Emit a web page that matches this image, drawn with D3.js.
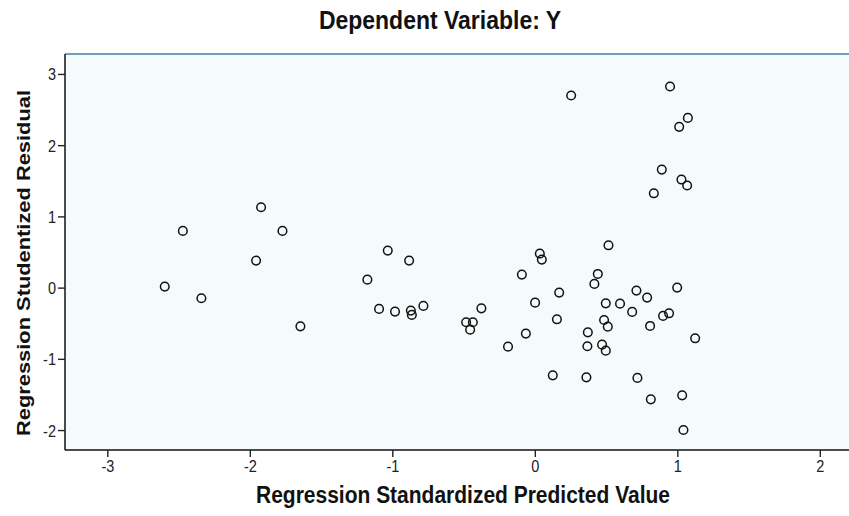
<!DOCTYPE html>
<html>
<head>
<meta charset="utf-8">
<script src="https://cdn.jsdelivr.net/npm/d3@7"></script>
<style>
  body { margin: 0; background: #fff; }
  text { font-family: "Liberation Sans", Arial, sans-serif; }
</style>
</head>
<body>
<svg id="chart" width="849" height="516"></svg>
<script>
// predicted (standardized) vs studentized residual
const predicted = [
  -1.921, -2.470, -1.771, -1.956, -2.597, -2.340, -1.645, -1.032, -0.882, -1.175,
  -1.093, -0.981, -0.870, -0.863, -0.782, -0.482, -0.435, -0.454, -0.375, -0.188,
  -0.063, -0.091, 0.035, 0.049, 0.002, 0.171, 0.155, 0.126, 0.255, 0.949,
  1.074, 1.013, 0.891, 1.029, 1.069, 0.835, 0.517, 0.442, 0.418, 0.713,
  0.788, 0.999, 0.498, 0.598, 0.683, 0.900, 0.942, 0.486, 0.512, 0.809,
  0.372, 0.369, 0.472, 0.498, 1.125, 0.362, 0.720, 0.814, 1.034, 1.043
];
const residual = [
  1.128, 0.796, 0.796, 0.379, 0.014, -0.150, -0.544, 0.520, 0.379, 0.112,
  -0.299, -0.337, -0.323, -0.383, -0.257, -0.487, -0.487, -0.590, -0.291, -0.829,
  -0.646, 0.183, 0.478, 0.393, -0.211, -0.070, -0.445, -1.232, 2.697, 2.823,
  2.383, 2.257, 1.657, 1.517, 1.433, 1.324, 0.594, 0.192, 0.052, -0.042,
  -0.140, 0.000, -0.221, -0.225, -0.341, -0.397, -0.361, -0.454, -0.548, -0.538,
  -0.628, -0.824, -0.801, -0.885, -0.712, -1.260, -1.268, -1.569, -1.513, -1.999
];
const xTicks = [-3, -2, -1, 0, 1, 2];
const yTicks = [-2, -1, 0, 1, 2, 3];

const svg = d3.select("#chart");
const plot = { left: 65, top: 54, right: 863, bottom: 450 };
const stretch = 1.15; // the source picture is a bit taller than wide

const x = d3.scaleLinear().domain([-3.297, 2.303]).range([plot.left, plot.right]);
const y = d3.scaleLinear().domain([-2.28, 3.28]).range([plot.bottom, plot.top]);

// plot background + top border
svg.append("rect")
  .attr("x", plot.left).attr("y", plot.top)
  .attr("width", plot.right - plot.left).attr("height", plot.bottom - plot.top)
  .attr("fill", "#f5fafb");
svg.append("line")
  .attr("x1", plot.left).attr("x2", plot.right)
  .attr("y1", plot.top).attr("y2", plot.top)
  .attr("stroke", "#3f7fa8").attr("stroke-width", 1.5);

const fmt = d => String(d); // plain hyphen minus like the source

// axes
const xAxis = svg.append("g")
  .attr("transform", `translate(0,${plot.bottom})`)
  .call(d3.axisBottom(x).tickValues(xTicks).tickSize(7).tickFormat(fmt));
const yAxis = svg.append("g")
  .attr("transform", `translate(${plot.left},0)`)
  .call(d3.axisLeft(y).tickValues(yTicks).tickSize(7).tickFormat(fmt));

[xAxis, yAxis].forEach(a => {
  a.select(".domain").attr("stroke", "#111").attr("stroke-width", 1.5);
  a.selectAll(".tick line").attr("stroke", "#222").attr("stroke-width", 1.4);
  a.selectAll(".tick text")
    .attr("font-size", "14.5px")
    .attr("fill", "#222")
    .attr("font-family", "'Liberation Sans', Arial, sans-serif")
    .attr("dy", null);
});
xAxis.selectAll(".tick text")
  .attr("x", 0).attr("y", 22.5 / stretch)
  .attr("transform", `scale(1,${stretch})`);
yAxis.selectAll(".tick text")
  .attr("x", -9).attr("y", 6 / stretch)
  .attr("transform", `scale(1,${stretch})`);

// plain domain lines without end caps
xAxis.select(".domain").attr("d", `M${plot.left},0H${plot.right}`);
yAxis.select(".domain").attr("d", `M0,${plot.top}V${plot.bottom}`);

// points
svg.append("g")
  .selectAll("circle")
  .data(predicted.map((p, i) => ({ p, r: residual[i] })))
  .enter().append("circle")
    .attr("cx", d => x(d.p))
    .attr("cy", d => y(d.r))
    .attr("r", 4.3)
    .attr("fill", "none")
    .attr("stroke", "#111")
    .attr("stroke-width", 1.5);

// titles
svg.append("text")
  .attr("transform", `translate(440,29) scale(1,${stretch})`)
  .attr("text-anchor", "middle")
  .attr("font-size", "23px")
  .attr("font-weight", "bold")
  .attr("fill", "#111")
  .text("Dependent Variable: Y");

svg.append("text")
  .attr("transform", `translate(463,503) scale(1,${stretch})`)
  .attr("text-anchor", "middle")
  .attr("font-size", "21px")
  .attr("font-weight", "bold")
  .attr("fill", "#111")
  .text("Regression Standardized Predicted Value");

svg.append("text")
  .attr("transform", `translate(30,263) rotate(-90) scale(${stretch},1)`)
  .attr("text-anchor", "middle")
  .attr("font-size", "19px")
  .attr("font-weight", "bold")
  .attr("fill", "#111")
  .text("Regression Studentized Residual");
</script>
</body>
</html>
